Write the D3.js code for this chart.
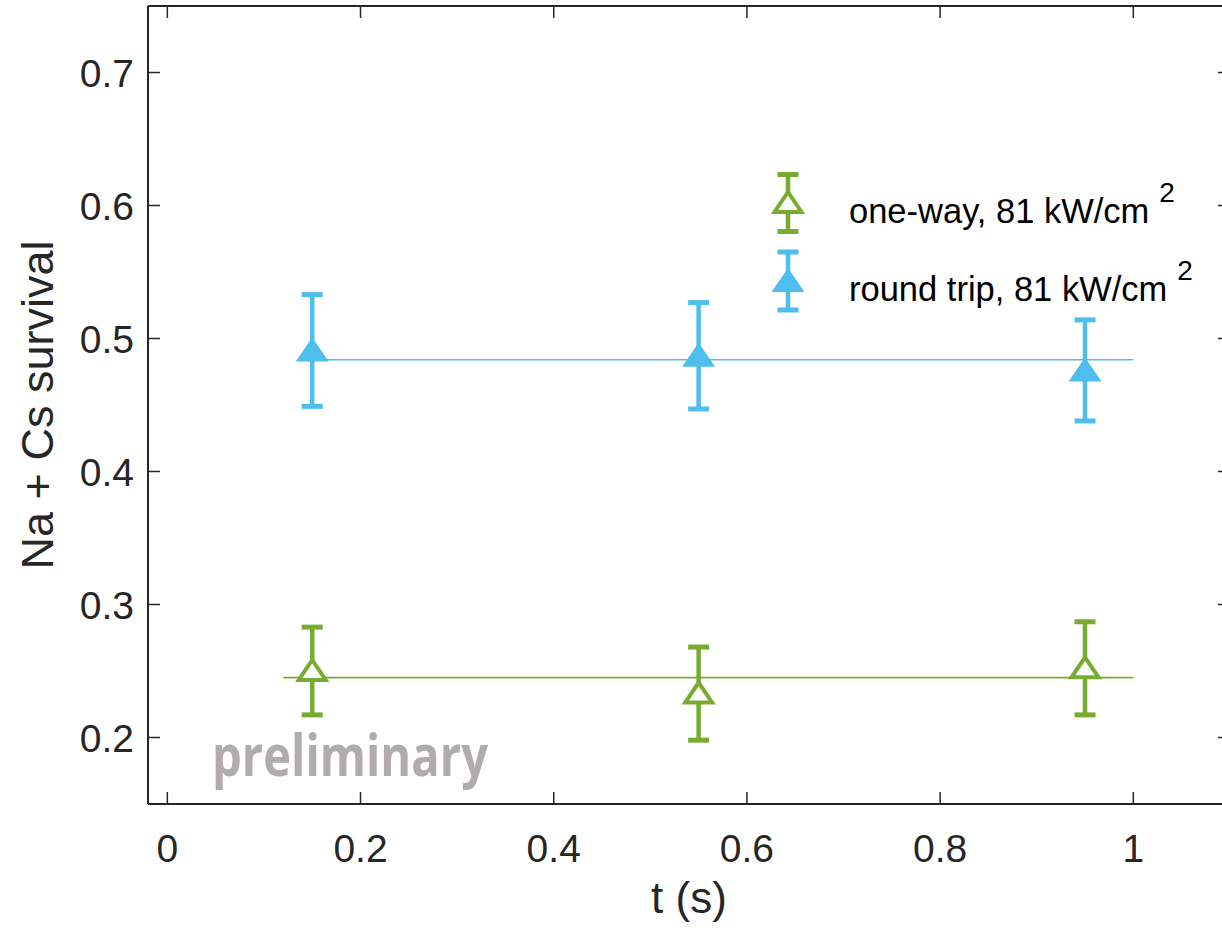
<!DOCTYPE html>
<html>
<head>
<meta charset="utf-8">
<script src="https://cdn.jsdelivr.net/npm/d3@7"></script>
<style>
  html, body { margin: 0; padding: 0; background: #fff; }
  svg { display: block; }
  text { font-family: "Liberation Sans", Arial, Helvetica, sans-serif; fill: #262626; }
</style>
</head>
<body>
<svg id="chart" width="1222" height="928"></svg>
<script>
// ---- data ----
const times = [0.15, 0.55, 0.95];
const oneWay = [0.250, 0.233, 0.252];
const oneWayErr = [0.033, 0.035, 0.035];
const roundTrip = [0.491, 0.487, 0.476];
const roundTripErr = [0.042, 0.040, 0.038];
const oneWayFit = { value: 0.245, from: 0.12, to: 1.0 };
const roundTripFit = { value: 0.484, from: 0.15, to: 1.0 };
const xTicks = [0, 0.2, 0.4, 0.6, 0.8, 1];
const yTicks = [0.2, 0.3, 0.4, 0.5, 0.6, 0.7];
const xDomain = [-0.02, 1.1];
const yDomain = [0.15, 0.75];
const legendLabels = ["one-way, 81 kW/cm", "round trip, 81 kW/cm"];
const xLabel = "t (s)";
const yLabel = "Na + Cs survival";
const watermark = "preliminary";

const green = "#77AC30", blue = "#4DBEEE", axisColor = "#262626";

const svg = d3.select("#chart");
const pLeft = 148, pTop = 6, pBottom = 804, pRight = 148 + 1.12 * 966;
const x = d3.scaleLinear().domain(xDomain).range([pLeft, pRight]);
const y = d3.scaleLinear().domain(yDomain).range([pBottom, pTop]);

// watermark
const wm = svg.append("text").text(watermark)
  .attr("x", 0).attr("y", 0)
  .attr("transform", "translate(212,776) scale(1,1.22)")
  .style("font-family", "'Open Sans', Lato, sans-serif")
  .style("font-weight", "700").style("font-size", "52px")
  .style("fill", "#b0acab");
const wmLen = wm.node().getComputedTextLength();
wm.style("font-size", (52 * 276 / wmLen) + "px");

// axes box
const g = svg.append("g");
g.append("line").attr("x1", pLeft).attr("x2", pLeft).attr("y1", pTop).attr("y2", pBottom);
g.append("line").attr("x1", pLeft).attr("x2", pRight).attr("y1", pBottom).attr("y2", pBottom);
g.append("line").attr("x1", pLeft).attr("x2", pRight).attr("y1", pTop).attr("y2", pTop);
g.append("line").attr("x1", pRight).attr("x2", pRight).attr("y1", pTop).attr("y2", pBottom);
g.selectAll("line").attr("stroke", axisColor).attr("stroke-width", 2);

const tl = 12;
xTicks.forEach(t => {
  const px = x(t);
  g.append("line").attr("x1", px).attr("x2", px).attr("y1", pBottom).attr("y2", pBottom - tl)
    .attr("stroke", axisColor).attr("stroke-width", 1.5);
  g.append("line").attr("x1", px).attr("x2", px).attr("y1", pTop).attr("y2", pTop + tl)
    .attr("stroke", axisColor).attr("stroke-width", 1.5);
  g.append("text").text(d3.format("~g")(t)).attr("x", px).attr("y", 862)
    .attr("text-anchor", "middle").style("font-size", "39px");
});
yTicks.forEach(t => {
  const py = y(t);
  g.append("line").attr("x1", pLeft).attr("x2", pLeft + tl).attr("y1", py).attr("y2", py)
    .attr("stroke", axisColor).attr("stroke-width", 1.5);
  g.append("line").attr("x1", pRight).attr("x2", pRight - tl).attr("y1", py).attr("y2", py)
    .attr("stroke", axisColor).attr("stroke-width", 1.5);
  g.append("text").text(d3.format(".1f")(t)).attr("x", 134).attr("y", py + 14)
    .attr("text-anchor", "end").style("font-size", "39px");
});

// axis labels
svg.append("text").text(xLabel).attr("x", (pLeft + pRight) / 2).attr("y", 913)
  .attr("text-anchor", "middle").style("font-size", "44px");
svg.append("text").text(yLabel)
  .attr("transform", `translate(53, ${(pTop + pBottom) / 2}) rotate(-90)`)
  .attr("text-anchor", "middle").style("font-size", "45px");

// fit lines
[[oneWayFit, green], [roundTripFit, blue]].forEach(([f, c]) => {
  svg.append("line").attr("x1", x(f.from)).attr("x2", x(f.to))
    .attr("y1", y(f.value)).attr("y2", y(f.value))
    .attr("stroke", c).attr("stroke-width", 1.6);
});

function errorBar(gr, cx, cyTop, cyBot, color) {
  gr.append("line").attr("x1", cx).attr("x2", cx).attr("y1", cyTop).attr("y2", cyBot)
    .attr("stroke", color).attr("stroke-width", 4.5);
  [cyTop, cyBot].forEach(yy => gr.append("line").attr("x1", cx - 10.5).attr("x2", cx + 10.5)
    .attr("y1", yy).attr("y2", yy).attr("stroke", color).attr("stroke-width", 5));
}
function triangle(gr, cx, cy, color, filled) {
  if (filled) {
    const w = 33;
    gr.append("path").attr("d", `M${cx},${cy - 13} L${cx + w / 2},${cy + 11} L${cx - w / 2},${cy + 11} Z`)
      .attr("fill", color);
  } else {
    const w = 27;
    gr.append("path").attr("d", `M${cx},${cy - 11} L${cx + w / 2},${cy + 9} L${cx - w / 2},${cy + 9} Z`)
      .attr("fill", "#fff").attr("stroke", color).attr("stroke-width", 4).attr("stroke-linejoin", "miter");
  }
}

const series = [
  { vals: oneWay, errs: oneWayErr, color: green, filled: false },
  { vals: roundTrip, errs: roundTripErr, color: blue, filled: true }
];
series.forEach(s => {
  const gr = svg.append("g");
  times.forEach((t, i) => {
    errorBar(gr, x(t), y(s.vals[i] + s.errs[i]), y(s.vals[i] - s.errs[i]), s.color);
    triangle(gr, x(t), y(s.vals[i]), s.color, s.filled);
  });
});

// legend
const legendY = [203, 281];
const legendHalf = [28.5, 29];
series.forEach((s, i) => {
  const gr = svg.append("g");
  const cx = 788, cy = legendY[i];
  errorBar(gr, cx, cy - legendHalf[i], cy + legendHalf[i], s.color);
  triangle(gr, cx, cy, s.color, s.filled);
  const t = gr.append("text").text(legendLabels[i]).attr("x", 849).attr("y", cy + 20)
    .style("font-size", "34.5px").style("fill", "#000");
  const w = t.node().getComputedTextLength();
  gr.append("text").text("2").attr("x", 849 + w + 10).attr("y", cy - 1)
    .style("font-size", "28px").style("fill", "#000");
});
</script>
</body>
</html>
